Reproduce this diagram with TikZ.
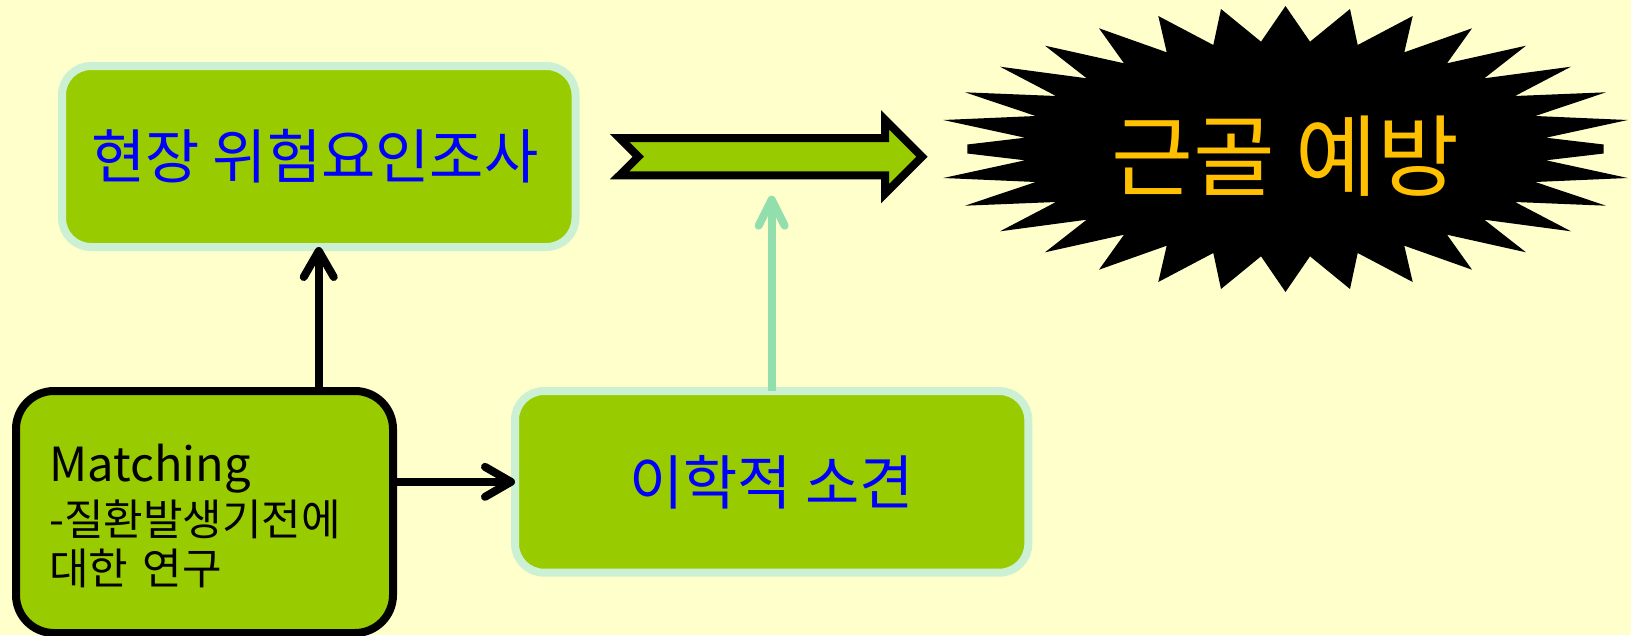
\documentclass[tikz,border=0pt]{standalone}
\usepackage{fontspec}
\setmainfont{Noto Sans CJK KR}
\usetikzlibrary{arrows.meta}
\definecolor{bgc}{HTML}{FFFFCC}
\definecolor{boxfill}{HTML}{99CC00}
\definecolor{mint}{RGB}{204,240,212}
\definecolor{garrow}{RGB}{146,222,172}
\definecolor{orangetxt}{HTML}{FFC000}
\definecolor{bluetxt}{HTML}{0000FF}
\begin{document}
\begin{tikzpicture}[x=1pt,y=-1pt,
  greenbox/.style={draw=mint, fill=boxfill, line width=8pt, rounded corners=29pt,
    outer sep=0pt, inner sep=0pt, text=bluetxt, font=\fontsize{59}{64}\selectfont},
  matchbox/.style={draw=black, fill=boxfill, line width=8pt, rounded corners=38pt,
    outer sep=0pt, inner sep=0pt},
  mtext/.style={text width=330pt, align=left, inner sep=0pt, text=black,
    font=\fontsize{43}{49}\selectfont},
  blackarr/.style={draw=black, line width=8pt, -{Straight Barb[length=26pt,width=30pt,round]}},
  greenarr/.style={draw=garrow, line width=8pt, -{Straight Barb[length=26pt,width=26pt,round]}},
  blockarrow/.style={draw=black, fill=boxfill, line width=8pt, miter limit=10, line join=miter},
  burst/.style={fill=black},
  bursttext/.style={text=orangetxt, inner sep=0pt, font=\fontsize{89}{96}\selectfont}
]
\fill[bgc] (0,0) rectangle (1631,635);
\useasboundingbox (0,0) rectangle (1631,635);

% boxes
\node[greenbox, minimum width=513.5pt, minimum height=181pt] (b1) at (318.75,156.5) {\hspace*{-8pt}현장 위험요인조사};
\node[greenbox, minimum width=513.3pt, minimum height=181.7pt] (b2) at (771.65,481.85) {이학적 소견};
\node[matchbox, minimum width=377pt, minimum height=242pt] (mbox) at (204.5,512) {};
\node[mtext, anchor=base west] (mt) at (49,481.7)
  {{\fontsize{47}{49}\selectfont Matching}\\[5pt]-질환발생기전에\\대한 연구};

% block arrow
\draw[blockarrow] (619.6,138) -- (885,138) -- (885,119.7) -- (922,156.7)
  -- (885,193.7) -- (885,175.3) -- (619.6,175.3) -- (638.3,156.7) -- cycle;

% starburst
\begin{scope}[shift={(1285.5,149)}]
\fill[burst] (0,-143) -- (24.5,-107.3) -- (64.5,-140) -- (72.2,-104) -- (127.2,-133)
 -- (118.8,-96.7) -- (186.5,-120.7) -- (161.5,-85.7) -- (240.5,-103.3) -- (198.8,-70.7)
 -- (285.5,-82.3) -- (229.5,-53) -- (320.5,-56.7) -- (249.8,-33) -- (342.2,-29)
 -- (260.5,-11.3) -- (318.2,-4.5) -- (318.2,4.5) -- (260.5,11.3) -- (342.2,29)
 -- (249.8,33) -- (320.5,56.7) -- (229.5,53) -- (285.5,82.3) -- (198.8,70.7)
 -- (240.5,103.3) -- (161.5,85.7) -- (186.5,120.7) -- (118.8,96.7) -- (127.2,133)
 -- (72.2,104) -- (64.5,140) -- (24.5,107.3) -- (0,143)
 -- (-24.5,107.3) -- (-64.5,140) -- (-72.2,104) -- (-127.2,133) -- (-118.8,96.7)
 -- (-186.5,120.7) -- (-161.5,85.7) -- (-240.5,103.3) -- (-198.8,70.7) -- (-285.5,82.3)
 -- (-229.5,53) -- (-320.5,56.7) -- (-249.8,33) -- (-342.2,29) -- (-260.5,11.3)
 -- (-318.2,4.5) -- (-318.2,-4.5) -- (-260.5,-11.3) -- (-342.2,-29) -- (-249.8,-33)
 -- (-320.5,-56.7) -- (-229.5,-53) -- (-285.5,-82.3) -- (-198.8,-70.7) -- (-240.5,-103.3)
 -- (-161.5,-85.7) -- (-186.5,-120.7) -- (-118.8,-96.7) -- (-127.2,-133) -- (-72.2,-104)
 -- (-64.5,-140) -- (-24.5,-107.3) -- cycle;
\end{scope}
\node[bursttext] (bt) at (1285.5,156) {근골 예방};

% connectors
\coordinate (gtip) at (771.65,195.7);
\draw[blackarr] (mbox.north -| b1.south) -- (b1.south);
\draw[blackarr] (mbox.east |- b2.west) -- (b2.west);
\draw[greenarr] (b2.north) -- (gtip);
\end{tikzpicture}
\end{document}
